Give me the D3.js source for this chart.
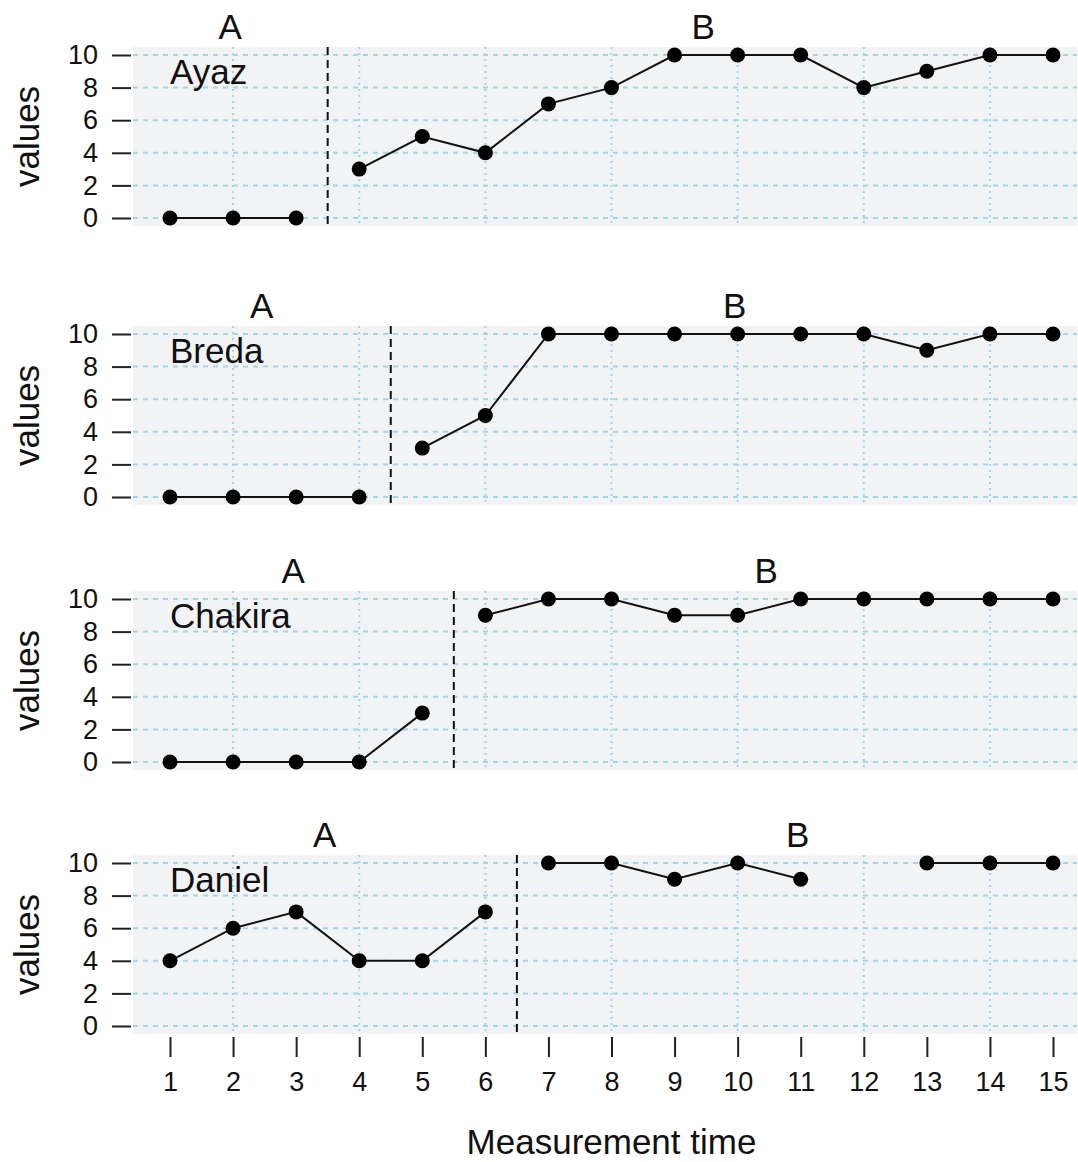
<!DOCTYPE html>
<html>
<head>
<meta charset="utf-8">
<script src="https://cdn.jsdelivr.net/npm/d3@7"></script>
<style>
  body { margin: 0; background: #fff; }
  svg text { font-family: "Liberation Sans", Arial, sans-serif; fill: #111; }
</style>
</head>
<body>
<div id="chart"></div>
<script>
// measurement times 1..15
const times = [1, 2, 3, 4, 5, 6, 7, 8, 9, 10, 11, 12, 13, 14, 15];
const names = ["Ayaz", "Breda", "Chakira", "Daniel"];
// last measurement time of phase A for each case
const phaseAEnd = [3, 4, 5, 6];
const ayaz = [0, 0, 0, 3, 5, 4, 7, 8, 10, 10, 10, 8, 9, 10, 10];
const breda = [0, 0, 0, 0, 3, 5, 10, 10, 10, 10, 10, 10, 9, 10, 10];
const chakira = [0, 0, 0, 0, 3, 9, 10, 10, 9, 9, 10, 10, 10, 10, 10];
const daniel = [4, 6, 7, 4, 4, 7, 10, 10, 9, 10, 9, null, 10, 10, 10];
const yTicks = [0, 2, 4, 6, 8, 10];
const phaseLabels = ["A", "B"];

const series = [ayaz, breda, chakira, daniel];

const W = 1078, H = 1162;
const panelTops = [55, 334, 599, 863]; // pixel position of value 10
const panelSpan = 163;                  // pixels from 10 down to 0
const bigFont = 35, tickFont = 27;

const svg = d3.select("#chart").append("svg")
  .attr("width", W).attr("height", H);

const x = d3.scaleLinear().domain([1, 15]).range([170, 1053]);
const bgLeft = 133, bgRight = 1077;

const line = d3.line()
  .defined(d => d.v !== null)
  .x(d => x(d.t))
  .y(d => d.y);

series.forEach(function (vals, i) {
  const y = d3.scaleLinear().domain([0, 10]).range([panelTops[i] + panelSpan, panelTops[i]]);
  const g = svg.append("g");
  const top = y(10) - 8, bottom = y(0) + 8;

  g.append("rect")
    .attr("x", bgLeft).attr("y", top)
    .attr("width", bgRight - bgLeft).attr("height", bottom - top)
    .attr("fill", "#f2f3f5");

  // horizontal grid
  g.selectAll(".hgrid").data(yTicks).enter().append("line")
    .attr("x1", bgLeft).attr("x2", bgRight)
    .attr("y1", d => y(d)).attr("y2", d => y(d))
    .attr("stroke", "#a2d5e8").attr("stroke-width", 2)
    .attr("stroke-dasharray", "5,5");

  // vertical grid at even times
  g.selectAll(".vgrid").data(times.filter(t => t % 2 === 0)).enter().append("line")
    .attr("x1", d => x(d)).attr("x2", d => x(d))
    .attr("y1", top).attr("y2", bottom)
    .attr("stroke", "#a2d5e8").attr("stroke-width", 2)
    .attr("stroke-dasharray", "2,4");

  // y axis
  const yAxis = d3.axisLeft(y).tickValues(yTicks).tickSize(19).tickPadding(14);
  const ya = g.append("g").attr("transform", "translate(131,0)").call(yAxis);
  ya.select(".domain").remove();
  ya.selectAll(".tick line").attr("stroke", "#222").attr("stroke-width", 2);
  ya.selectAll(".tick text").attr("font-size", tickFont).attr("fill", "#111")
    .style("font-family", "'Liberation Sans', Arial, sans-serif");

  g.append("text")
    .attr("transform", "translate(39," + (y(5)) + ") rotate(-90)")
    .attr("text-anchor", "middle")
    .attr("font-size", bigFont)
    .text("values");

  // phase change line
  const split = phaseAEnd[i] + 0.5;
  g.append("line")
    .attr("x1", x(split)).attr("x2", x(split))
    .attr("y1", top).attr("y2", bottom + 2)
    .attr("stroke", "#111").attr("stroke-width", 2)
    .attr("stroke-dasharray", "8,5");

  // phase labels
  const mids = [(1 + phaseAEnd[i]) / 2, (phaseAEnd[i] + 1 + 15) / 2];
  g.selectAll(".phase").data(phaseLabels).enter().append("text")
    .attr("x", (d, k) => x(mids[k]) - 3)
    .attr("y", y(10) - 16)
    .attr("text-anchor", "middle")
    .attr("font-size", bigFont)
    .text(d => d);

  g.append("text")
    .attr("x", x(1)).attr("y", y(10) + 29)
    .attr("font-size", bigFont)
    .text(names[i]);

  const pts = vals.map((v, k) => ({ t: times[k], v: v, y: v === null ? 0 : y(v) }));
  const phaseA = pts.filter(d => d.t <= phaseAEnd[i]);
  const phaseB = pts.filter(d => d.t > phaseAEnd[i]);

  [phaseA, phaseB].forEach(function (p) {
    g.append("path")
      .attr("d", line(p))
      .attr("fill", "none")
      .attr("stroke", "#111")
      .attr("stroke-width", 2);
  });

  g.selectAll(".pt").data(pts.filter(d => d.v !== null)).enter().append("circle")
    .attr("cx", d => x(d.t)).attr("cy", d => d.y)
    .attr("r", 7.5).attr("fill", "#000");

  if (i === series.length - 1) {
    const xAxis = d3.axisBottom(x).tickValues(times).tickSize(20).tickPadding(15)
      .tickFormat(d3.format("d"));
    const xa = g.append("g").attr("transform", "translate(0," + (bottom + 3) + ")").call(xAxis);
    xa.select(".domain").remove();
    xa.selectAll(".tick line").attr("stroke", "#222").attr("stroke-width", 2);
    xa.selectAll(".tick text").attr("font-size", tickFont).attr("fill", "#111")
      .style("font-family", "'Liberation Sans', Arial, sans-serif");

    g.append("text")
      .attr("x", (x(1) + x(15)) / 2)
      .attr("y", 1154)
      .attr("text-anchor", "middle")
      .attr("font-size", bigFont)
      .text("Measurement time");
  }
});
</script>
</body>
</html>
